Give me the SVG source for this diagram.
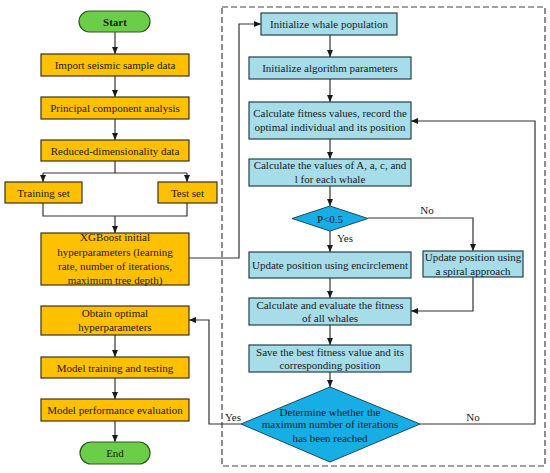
<svg xmlns="http://www.w3.org/2000/svg" width="550" height="473" viewBox="0 0 550 473">
<defs>
<marker id="ah" markerWidth="8" markerHeight="8" refX="7" refY="4" orient="auto" markerUnits="userSpaceOnUse">
<path d="M0,1 L7,4 L0,7 Z" fill="#1a1a1a"/>
</marker>
<style>
.o{fill:#FFC000;stroke:#3a3020;stroke-width:1.2}
.c{fill:#A6DDE9;stroke:#24424a;stroke-width:1.2}
.d{fill:#17AEE6;stroke:#1c4a5e;stroke-width:1}
.g{fill:#6CCE48;stroke:#2d5a1e;stroke-width:1.2}
.t{font-family:"Liberation Serif","Times New Roman",serif;font-size:11px;fill:#1a1a1a;text-anchor:middle}
.b{font-weight:bold}
.l{fill:none;stroke:#333;stroke-width:1.2}
.a{fill:none;stroke:#333;stroke-width:1.2;marker-end:url(#ah)}
</style>
</defs>
<rect x="222" y="7" width="323" height="459" fill="none" stroke="#444" stroke-width="1.2" stroke-dasharray="6,3"/>
<g id="connectors">
<path class="a" d="M115,32V54"/>
<path class="a" d="M115,76V97"/>
<path class="a" d="M115,119V140"/>
<path class="l" d="M115,161V173M43,173H187"/>
<path class="a" d="M43,173V182"/>
<path class="a" d="M187,173V182"/>
<path class="l" d="M43,203V216H187V203"/>
<path class="a" d="M115,216V233"/>
<path class="a" d="M115,335V357"/>
<path class="a" d="M115,378V399"/>
<path class="a" d="M115,421V442"/>
<path class="a" d="M189,258H239V24H261"/>
<path class="a" d="M241,424H209V320H189"/>
<path class="a" d="M330,35V57"/>
<path class="a" d="M330,79V102"/>
<path class="a" d="M330,139V159"/>
<path class="a" d="M330,186V206"/>
<path class="a" d="M368,218H473V251"/>
<path class="a" d="M330,231V252"/>
<path class="a" d="M473,277V311H411"/>
<path class="a" d="M330,278V298"/>
<path class="a" d="M330,325V345"/>
<path class="a" d="M330,372V387"/>
<path class="a" d="M420,424H535V121H411"/>
<text class="t" x="427" y="214">No</text>
<text class="t" x="337" y="242" style="text-anchor:start">Yes</text>
<text class="t" x="233" y="421">Yes</text>
<text class="t" x="473" y="421">No</text>
</g>
<g id="start"><rect class="g" x="79" y="11" width="71" height="21" rx="10.5"/><text class="t b" x="115" y="25.5">Start</text></g>
<g id="import"><rect class="o" x="41" y="54" width="148" height="22"/><text class="t" x="115" y="69">Import seismic sample data</text></g>
<g id="pca"><rect class="o" x="41" y="97" width="148" height="22"/><text class="t" x="115" y="112">Principal component analysis</text></g>
<g id="reduced"><rect class="o" x="41" y="140" width="148" height="21"/><text class="t" x="115" y="154.5">Reduced-dimensionality data</text></g>
<g id="training"><rect class="o" x="5" y="182" width="77" height="21"/><text class="t" x="43.5" y="196.5">Training set</text></g>
<g id="test"><rect class="o" x="158" y="182" width="59" height="21"/><text class="t" x="187.5" y="196.5">Test set</text></g>
<g id="xgb"><rect class="o" x="41" y="233" width="148" height="52"/>
<text class="t" x="115" y="241">XGBoost initial</text>
<text class="t" x="115" y="255.5">hyperparameters (learning</text>
<text class="t" x="115" y="269.5">rate, number of iterations,</text>
<text class="t" x="115" y="283.5">maximum tree depth)</text></g>
<g id="obtain"><rect class="o" x="41" y="306" width="148" height="29"/><text class="t" x="115" y="317">Obtain optimal</text><text class="t" x="115" y="331">hyperparameters</text></g>
<g id="modeltrain"><rect class="o" x="41" y="357" width="148" height="21"/><text class="t" x="115" y="371.5">Model training and testing</text></g>
<g id="modelperf"><rect class="o" x="41" y="399" width="148" height="22"/><text class="t" x="115" y="414">Model performance evaluation</text></g>
<g id="end"><rect class="g" x="80" y="442" width="70" height="22" rx="11"/><text class="t" x="115" y="457">End</text></g>
<g id="whalepop"><rect class="c" x="261" y="13" width="136" height="22"/><text class="t" x="329" y="28">Initialize whale population</text></g>
<g id="initalgo"><rect class="c" x="249" y="57" width="162" height="22"/><text class="t" x="330" y="72">Initialize algorithm parameters</text></g>
<g id="calcfit"><rect class="c" x="249" y="102" width="162" height="37"/><text class="t" x="330" y="117">Calculate fitness values, record the</text><text class="t" x="330" y="131">optimal individual and its position</text></g>
<g id="calcvals"><rect class="c" x="249" y="159" width="162" height="27"/><text class="t" x="330" y="169">Calculate the values of A, a, c, and</text><text class="t" x="330" y="183">l for each whale</text></g>
<g id="p05"><polygon class="d" points="330,206 368,218.5 330,231 292,218.5"/><text class="t" x="330" y="222.5">P&lt;0.5</text></g>
<g id="encircle"><rect class="c" x="249" y="252" width="162" height="26"/><text class="t" x="330" y="268.5">Update position using encirclement</text></g>
<g id="spiral"><rect class="c" x="423" y="251" width="100" height="26"/><text class="t" x="473" y="261">Update position using</text><text class="t" x="473" y="275">a spiral approach</text></g>
<g id="calceval"><rect class="c" x="249" y="298" width="162" height="27"/><text class="t" x="330" y="309">Calculate and evaluate the fitness</text><text class="t" x="330" y="322">of all whales</text></g>
<g id="save"><rect class="c" x="249" y="345" width="162" height="27"/><text class="t" x="330" y="356">Save the best fitness value and its</text><text class="t" x="330" y="369">corresponding position</text></g>
<g id="maxiter"><polygon class="d" points="330,387 420,424 330,462 241,424"/>
<text class="t" x="330" y="416">Determine whether the</text>
<text class="t" x="330" y="428">maximum number of iterations</text>
<text class="t" x="330" y="442">has been reached</text></g>
</svg>
